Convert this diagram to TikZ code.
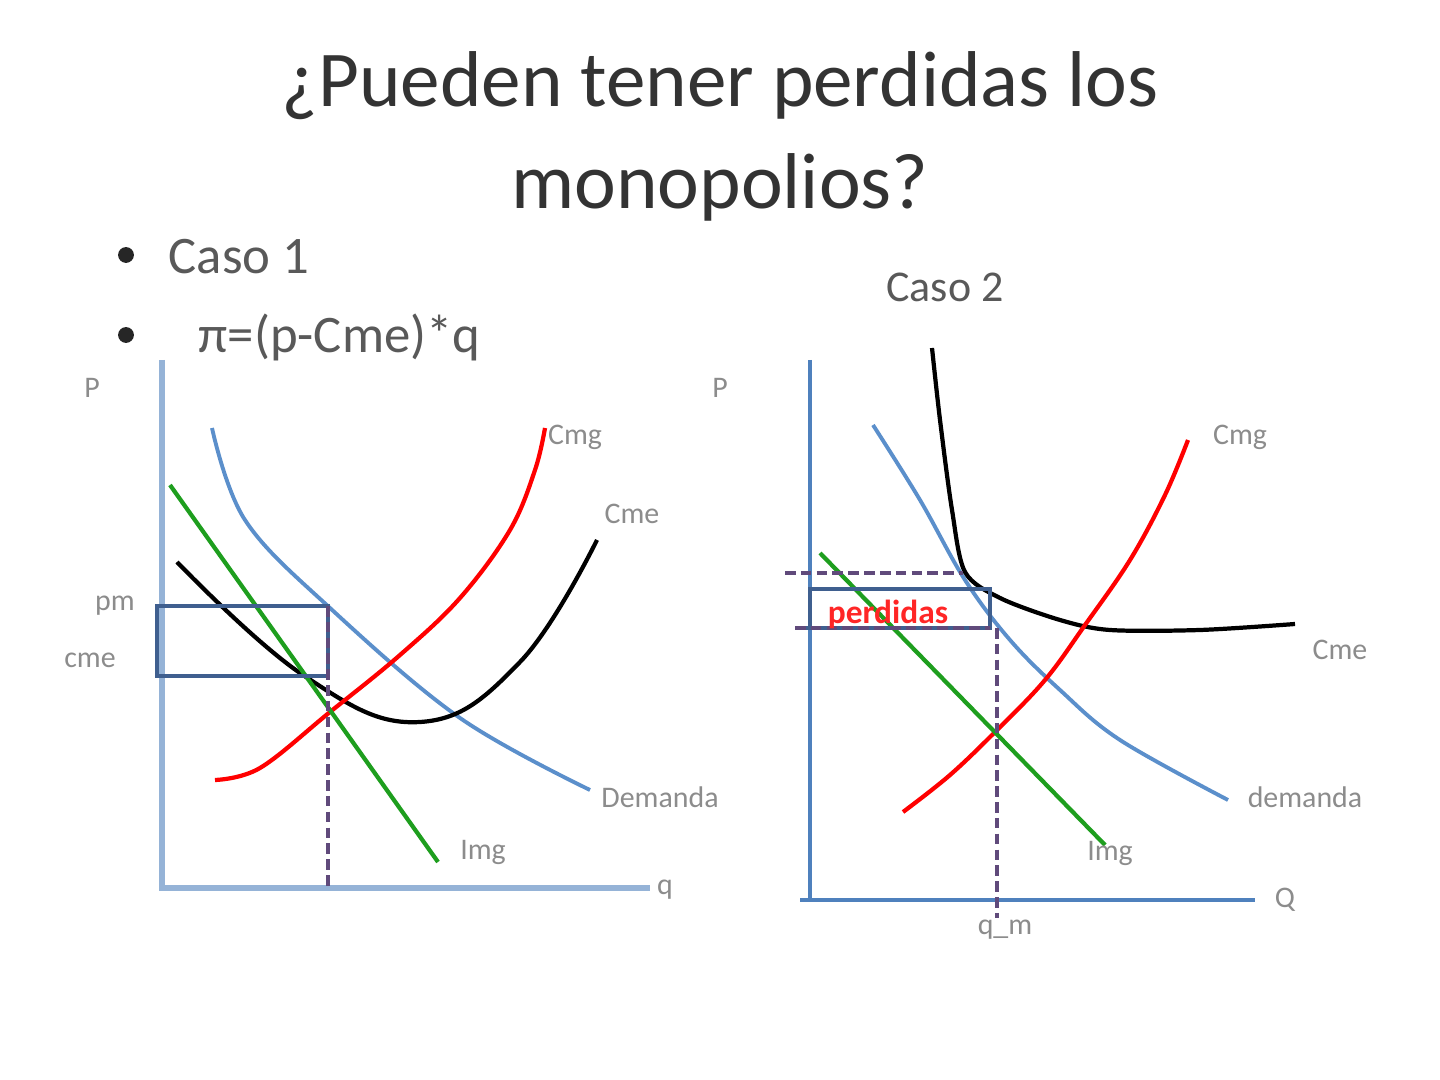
\documentclass[tikz,border=0pt]{standalone}
\usepackage{fontspec}
\setmainfont{Carlito}
\usepackage{xcolor}
\usetikzlibrary{positioning,calc}

\definecolor{axislight}{HTML}{95B3D7}
\definecolor{axisdark}{HTML}{4F81BD}
\definecolor{demblue}{HTML}{5B8FCB}
\definecolor{boxblue}{HTML}{3F5F8F}
\definecolor{dashpurple}{HTML}{604A7B}
\definecolor{imggreen}{HTML}{1E9E1E}
\definecolor{lblgray}{HTML}{8C8C8C}
\definecolor{txtgray}{HTML}{595959}

\begin{document}
\begin{tikzpicture}[
    x=0.01cm, y=-0.01cm,
    axisL/.style={draw=axislight, line width=1.5pt},
    axisR/.style={draw=axisdark, line width=1.4pt},
    cmgline/.style={draw=red, line width=1.2pt},
    cmeline/.style={draw=black, line width=1.2pt},
    demline/.style={draw=demblue, line width=1.1pt},
    imgline/.style={draw=imggreen, line width=1.2pt},
    boxline/.style={draw=boxblue, line width=1.3pt},
    dashline/.style={draw=dashpurple, line width=0.9pt, dash pattern=on 3pt off 1.5pt},
    lbl/.style={font=\fontsize{8.5}{10}\selectfont, text=lblgray, inner sep=0pt},
    bullet/.style={font=\fontsize{15}{18}\selectfont, text=txtgray, inner sep=0pt, anchor=west},
    dot/.style={circle, fill=black!85, inner sep=0pt, minimum size=4.5pt}
]
\useasboundingbox (0,0) rectangle (1440,1080);

% Title
\node[font=\fontsize{22.5}{26}\selectfont, text=black!80, align=center] (title) at (720,136)
    {¿Pueden tener perdidas los\\[3pt]monopolios?};

% Bullets
\node[dot] (d1) at (126,255) {};
\node[dot] (d2) at (126,335) {};
\node[bullet] (b1) at (168,257) {Caso 1};
\node[bullet] (b2) at (198,337) {π=(p-Cme)*q};
\node[font=\fontsize{12.5}{14}\selectfont, text=txtgray] (caso2) at (945,287) {Caso 2};

% ---- Caso 1 ----
\coordinate (o1) at (162,888);
\coordinate (p1top) at (162,360);
\coordinate (q1end) at (650,888);
\draw[axisL] (p1top) -- (o1) -- (q1end);
\node[lbl] (P1) at (92,388) {P};
\node[lbl] (q1) at (665,890) {q};

% Demanda
\draw[demline] plot[smooth, tension=0.6] coordinates
    {(212,428) (245,520) (330,608) (460,718) (590,790)};
\node[lbl] (dem1) at (660,797) {Demanda};

% Cme
\draw[cmeline] plot[smooth, tension=0.7] coordinates
    {(177,562) (303,675) (420,722) (520,662) (597,540)};
\node[lbl] (cme1) at (632,514) {Cme};

% Cmg
\draw[cmgline] plot[smooth, tension=0.6] coordinates
    {(215,780) (260,768) (330,712) (400,655) (460,598) (510,530) (535,470) (545,428)};
\node[lbl] (cmg1) at (575,437) {Cmg};

% Img
\coordinate (img1a) at (170,485);
\coordinate (img1b) at (438,862);
\draw[imgline] (img1a) -- (img1b);
\node[lbl] (img1) at (483,852) {Img};

% Rectangle and dashed guide
\coordinate (r1a) at (157,606);
\coordinate (r1b) at (328,676);
\draw[boxline] (r1a) rectangle (r1b);
\draw[dashline] (r1b |- r1a) -- (r1b |- o1);
\node[lbl] (pm) at (115,606) {pm};
\node[lbl] (cmel) at (90,660) {cme};

% ---- Caso 2 ----
\coordinate (o2) at (810,900);
\coordinate (p2top) at (810,360);
\coordinate (q2end) at (1255,900);
\draw[axisR] (p2top) -- (o2);
\draw[axisR] (800,900) -- (q2end);
\node[lbl] (P2) at (720,388) {P};
\node[lbl] (Q2) at (1285,900) {Q};

% Demanda
\draw[demline] plot[smooth, tension=0.6] coordinates
    {(873,425) (920,500) (965,580) (1010,640) (1060,690) (1120,740) (1228,800)};
\node[lbl] (dem2) at (1305,797) {demanda};

% Cme
\draw[cmeline] plot[smooth, tension=0.5] coordinates
    {(932,348) (940,420) (952,510) (965,572) (1000,598) (1060,620) (1110,630) (1200,630) (1295,624)};
\node[lbl] (cme2) at (1340,650) {Cme};

% Cmg
\draw[cmgline] plot[smooth, tension=0.6] coordinates
    {(903,812) (950,775) (997,730) (1045,680) (1085,625) (1130,560) (1165,495) (1188,440)};
\node[lbl] (cmg2) at (1240,437) {Cmg};

% Img
\coordinate (img2a) at (820,553);
\coordinate (img2b) at (1105,845);
\draw[imgline] (img2a) -- (img2b);
\node[lbl] (img2) at (1110,853) {Img};

% Losses rectangle
\coordinate (r2a) at (810,589);
\coordinate (r2b) at (990,628);
\draw[boxline] (r2a) rectangle (r2b);
\draw[boxline] (800,628) -- (r2a |- r2b);
\draw[dashline] (785,573) -- (963,573);
\draw[dashline] (795,628) -- (r2b);
\draw[dashline] (997,628) -- (997,918);
\node[font=\fontsize{9.5}{11}\selectfont\bfseries, text=red!85, inner sep=0pt] (perd) at (888,614) {perdidas};
\node[lbl] (qm) at (1005,930) {q\_m};

\end{tikzpicture}
\end{document}
